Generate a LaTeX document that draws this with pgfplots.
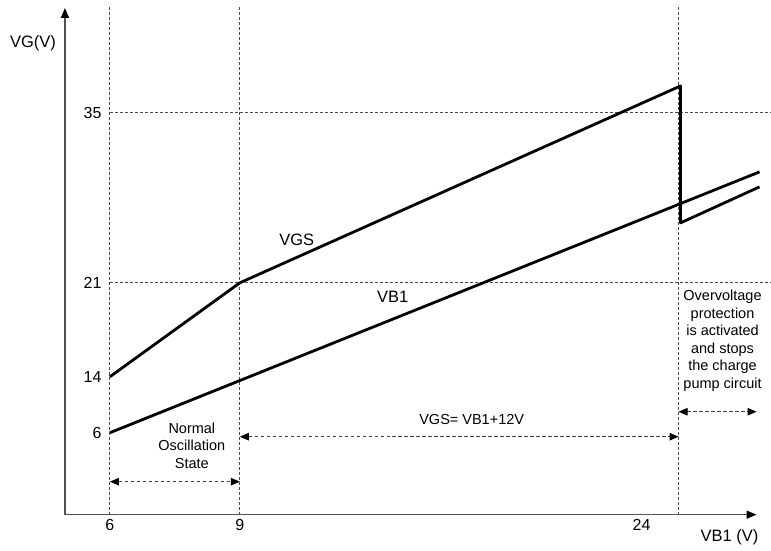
\documentclass[border=0pt]{standalone}
\usepackage{pgfplots}
\pgfplotsset{compat=1.18}
\usepackage{fontspec}
\setmainfont{Liberation Sans}
\usetikzlibrary{arrows.meta}

% schematic chart: axis units are picture points (the axes are not to scale)
\begin{document}
\begin{tikzpicture}[
  grid dash/.style={black!70, line width=1pt, dash pattern=on 3pt off 2pt},
  note/.style={font=\fontsize{14.5}{17.5}\selectfont, align=center},
  lab/.style={font=\fontsize{16.5}{18}\selectfont},
  darr/.style={black!75, line width=1pt, dash pattern=on 3.5pt off 2.5pt,
    {Triangle[length=9pt,width=7.5pt,fill=black,color=black]}-{Triangle[length=9pt,width=7.5pt,fill=black,color=black]}},
]
\begin{axis}[
  scale only axis,
  width=692pt, height=507pt,
  xmin=65, xmax=757,
  ymin=36, ymax=543,
  clip=false,
  axis lines=left,
  axis line style={line width=1.6pt, gray!65!black},
  x axis line style={-{Triangle[length=10pt,width=8pt,color=black]}},
  y axis line style={-{Triangle[length=10pt,width=8pt,color=black]}},
  major tick length=0pt,
  xtick={110,240,642},
  xticklabels={6,9,24},
  ytick={118,174,268,438},
  yticklabels={6,14,21,35},
  tick label style={font=\fontsize{16}{18}\selectfont},
  xticklabel style={yshift=-1pt},
  yticklabel style={anchor=east, xshift=40pt},
]
% guide lines
\addplot[grid dash] coordinates {(110,438) (771,438)};
\addplot[grid dash] coordinates {(110,268) (771,268)};
\addplot[grid dash] coordinates {(110,36) (110,545)};
\addplot[grid dash] coordinates {(240,36) (240,545)};
\addplot[grid dash] coordinates {(679,36) (679,545)};

% VGS with the overvoltage cut-off
\addplot[black, line width=2.8pt, line join=round] coordinates {
  (110,174) (240,268) (681,465) (681,328) (760,364)
};
% VB1
\addplot[black, line width=2.8pt] coordinates {(110,118) (760,379)};

\node[lab] at (axis cs:297,311) {VGS};
\node[lab] at (axis cs:393,254) {VB1};
\node[lab] at (axis cs:33,508) {VG(V)};
\node[lab] at (axis cs:730,13) {VB1 (V)};

\node[note] at (axis cs:192,105) {Normal\\Oscillation\\State};
\draw[darr] (axis cs:110,69) -- (axis cs:240,69);

\node[note] at (axis cs:472,131) {VGS= VB1+12V};
\draw[darr] (axis cs:240,114) -- (axis cs:679,114);

\node[note] at (axis cs:723,210) {Overvoltage\\protection\\is activated\\and stops\\the charge\\pump circuit};
\draw[darr] (axis cs:679,139) -- (axis cs:757,139);

\path[use as bounding box] (axis cs:0,0) rectangle (axis cs:771,551);
\end{axis}
\end{tikzpicture}
\end{document}
